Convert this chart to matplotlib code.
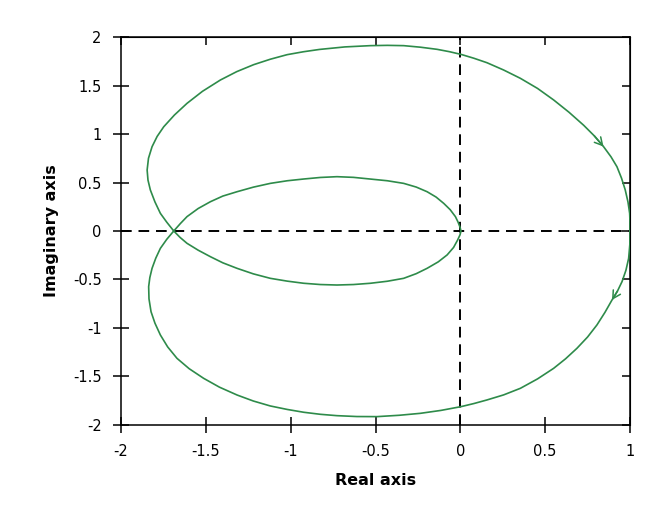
import matplotlib
matplotlib.use('Agg')
import matplotlib.pyplot as plt

FONT = 'DejaVu Sans'
GREEN = '#2e8b4a'
plt.rcParams['font.family'] = [FONT]

# positive frequencies: from (1, 0) round the lower outer arc, through the
# crossing and the upper inner loop down to the origin
re_outer_low = [1.0, 0.999, 0.992, 0.976, 0.953, 0.926, 0.894, 0.852, 0.805, 0.75, 0.687, 0.62,
                0.55, 0.455, 0.354, 0.255, 0.157, 0.08, 0.004, -0.115, -0.236, -0.36, -0.491,
                -0.61, -0.727, -0.825, -0.923, -1.02, -1.12, -1.22, -1.316, -1.42, -1.513,
                -1.598, -1.67, -1.725, -1.768, -1.80, -1.823, -1.835, -1.837, -1.83, -1.817,
                -1.795, -1.768, -1.73, -1.689]
im_outer_low = [0.0, -0.14, -0.282, -0.405, -0.522, -0.62, -0.711, -0.84, -0.969, -1.093, -1.21, -1.318,
                -1.416, -1.525, -1.622, -1.69, -1.742, -1.779, -1.811, -1.85, -1.88, -1.9, -1.914,
                -1.913, -1.904, -1.89, -1.869, -1.84, -1.804, -1.753, -1.691, -1.61, -1.519,
                -1.42, -1.313, -1.195, -1.072, -0.95, -0.832, -0.70, -0.574, -0.48, -0.385,
                -0.28, -0.179, -0.085, 0.0]

re_inner_up = [-1.689, -1.65, -1.611, -1.545, -1.473, -1.40, -1.316, -1.22, -1.12, -1.02, -0.923,
               -0.825, -0.727, -0.63, -0.53, -0.43, -0.334, -0.26, -0.196, -0.143, -0.098, -0.06,
               -0.029, -0.013, -0.002, 0.004]
im_inner_up = [0.0, 0.077, 0.148, 0.232, 0.302, 0.36, 0.405, 0.452, 0.491, 0.518, 0.536,
               0.552, 0.56, 0.553, 0.536, 0.518, 0.491, 0.453, 0.405, 0.35, 0.285, 0.22,
               0.148, 0.09, 0.04, 0.0]

# negative frequencies: origin -> lower inner loop -> crossing -> upper outer arc -> (1, 0)
re_inner_low = [0.004, -0.002, -0.016, -0.04, -0.078, -0.13, -0.196, -0.26, -0.334, -0.43, -0.53,
                -0.63, -0.727, -0.825, -0.923, -1.02, -1.12, -1.22, -1.316, -1.40, -1.473, -1.545,
                -1.611, -1.652, -1.689]
im_inner_low = [0.0, -0.04, -0.093, -0.17, -0.247, -0.318, -0.385, -0.44, -0.488, -0.518, -0.539,
                -0.552, -0.557, -0.552, -0.539, -0.517, -0.488, -0.442, -0.385, -0.328, -0.265, -0.198,
                -0.127, -0.066, 0.0]

re_outer_up = [-1.689, -1.73, -1.768, -1.80, -1.827, -1.841, -1.846, -1.838, -1.817, -1.787, -1.748,
               -1.685, -1.611, -1.52, -1.414, -1.318, -1.218, -1.12, -1.021, -0.925, -0.83, -0.68,
               -0.53, -0.43, -0.334, -0.235, -0.137, -0.065, 0.004, 0.08, 0.157, 0.255, 0.354,
               0.455, 0.55, 0.64, 0.727, 0.79, 0.844, 0.888, 0.923, 0.95, 0.972, 0.988, 0.998,
               1.0, 1.0]
im_outer_up = [0.0, 0.09, 0.182, 0.30, 0.423, 0.525, 0.629, 0.75, 0.869, 0.975, 1.075,
               1.196, 1.316, 1.44, 1.557, 1.643, 1.715, 1.771, 1.818, 1.848, 1.872, 1.898,
               1.911, 1.914, 1.911, 1.895, 1.873, 1.849, 1.821, 1.781, 1.735, 1.66, 1.574,
               1.47, 1.351, 1.225, 1.09, 0.98, 0.87, 0.765, 0.663, 0.545, 0.423, 0.30, 0.182,
               0.09, 0.0]

x_ticks = [-2, -1.5, -1, -0.5, 0, 0.5, 1]
y_ticks = [-2, -1.5, -1, -0.5, 0, 0.5, 1, 1.5, 2]
tick_text = lambda v: '%g' % v


def direction_arrow(ax, xs, ys, i):
    # open chevron pointing from point i to point i + 1 of a segment
    ax.annotate('', xy=(xs[i + 1], ys[i + 1]), xytext=(xs[i], ys[i]),
                arrowprops=dict(arrowstyle='->,head_length=0.55,head_width=0.3', color=GREEN,
                                lw=1.1, shrinkA=0, shrinkB=0), zorder=4)


fig = plt.figure(figsize=(6.7, 5.17), dpi=100)
ax = fig.add_axes([0.1806, 0.178, 0.7597, 0.7504])

ax.axhline(0, color='black', lw=1.4, ls=(0, (5.5, 3.5)), zorder=1)
ax.axvline(0, color='black', lw=1.4, ls=(0, (5.5, 3.5)), zorder=1)

re = re_outer_low + re_inner_up + re_inner_low + re_outer_up
im = im_outer_low + im_inner_up + im_inner_low + im_outer_up
ax.plot(re, im, color=GREEN, lw=1.2, solid_joinstyle='round', zorder=3)

direction_arrow(ax, re_outer_up, im_outer_up, 37)
direction_arrow(ax, re_outer_low, im_outer_low, 5)

ax.set_xlim(-2, 1)
ax.set_ylim(-2, 2)
ax.set_xticks(x_ticks, [tick_text(v) for v in x_ticks])
ax.set_yticks(y_ticks, [tick_text(v) for v in y_ticks])
ax.tick_params(direction='inout', length=12, width=1.1, labelsize=10.5, colors='black')
ax.tick_params(axis='x', pad=8)
ax.tick_params(axis='y', pad=8)
for side in ax.spines.values():
    side.set_linewidth(1.1)

# mirrored ticks on top and right, pointing inwards only
top = ax.secondary_xaxis('top')
top.set_xticks(x_ticks, [])
top.tick_params(direction='in', length=5.5, width=1.1)
right = ax.secondary_yaxis('right')
right.set_yticks(y_ticks, [])
right.tick_params(direction='in', length=5.5, width=1.1)

ax.set_xlabel('Real axis', fontsize=11.5, fontweight='bold', labelpad=10)
ax.set_ylabel('Imaginary axis', fontsize=11.5, fontweight='bold', labelpad=10)

fig.savefig('out.png', dpi=100)
